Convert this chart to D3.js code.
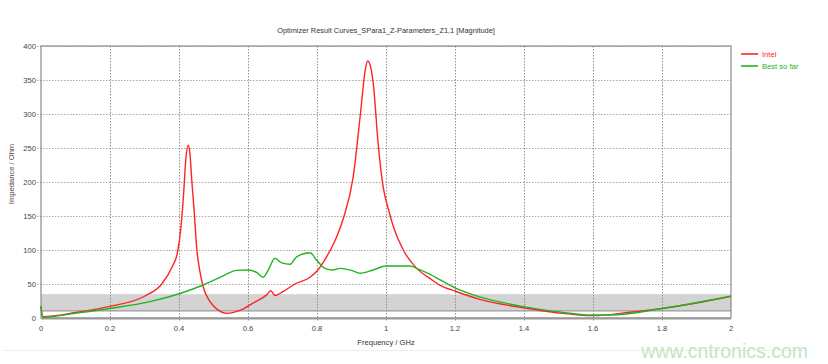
<!DOCTYPE html>
<html>
<head>
<meta charset="utf-8">
<script src="https://cdn.jsdelivr.net/npm/d3@7"></script>
<style>
  body { margin: 0; background: #fff; }
  svg { display: block; font-family: "Liberation Sans", Arial, sans-serif; }
</style>
</head>
<body>
<main></main>
<script>
const width = 828;
const height = 364;

// Intel curve (GHz, Ohm)
const intelFreq = [0, 0.005, 0.1, 0.2, 0.3, 0.35, 0.38, 0.395, 0.405, 0.413, 0.42, 0.427, 0.432, 0.437, 0.445, 0.451, 0.46, 0.47, 0.49, 0.51, 0.538, 0.58, 0.615, 0.654, 0.666, 0.678, 0.702, 0.736, 0.78, 0.8, 0.823, 0.847, 0.876, 0.905, 0.925, 0.94, 0.947, 0.955, 0.963, 0.978, 0.992, 1.007, 1.021, 1.05, 1.089, 1.128, 1.157, 1.203, 1.272, 1.398, 1.495, 1.6, 1.7, 1.8, 1.9, 2.0];
const intelZ = [17, 2, 8, 17, 32, 50, 75, 95, 130, 180, 235, 254, 240, 203, 150, 105, 70, 46, 24, 13, 7, 12, 22, 34, 40, 33, 39, 50, 60, 69, 86, 108, 146, 208, 296, 365, 378, 370, 345, 252, 192, 160, 135, 100, 73, 58, 48, 39, 27.5, 15, 7.8, 3.5, 8, 14, 22, 32];

// Best so far curve
const bestFreq = [0, 0.005, 0.1, 0.2, 0.316, 0.403, 0.47, 0.52, 0.567, 0.6, 0.625, 0.644, 0.66, 0.678, 0.698, 0.722, 0.741, 0.78, 0.799, 0.823, 0.846, 0.867, 0.9, 0.925, 0.963, 1.0, 1.07, 1.089, 1.128, 1.157, 1.203, 1.272, 1.398, 1.495, 1.6, 1.65, 1.8, 2.0];
const bestZ = [17, 1, 7, 14, 24, 36, 48.5, 60, 70, 70.5, 67, 60, 72, 87.8, 81, 79, 90, 96, 85, 73, 70.6, 73, 70, 65.7, 70.6, 76.5, 76.5, 73, 64, 56, 43.6, 31, 16.7, 9.3, 4.4, 4.4, 14, 32];

// goal band
const bandLow = 10.5;
const bandHigh = 35;

const xTicks = [0, 0.2, 0.4, 0.6, 0.8, 1, 1.2, 1.4, 1.6, 1.8, 2];
const yTicks = [0, 50, 100, 150, 200, 250, 300, 350, 400];

const seriesNames = ["Intel", "Best so far"];
const seriesColors = ["#ff2424", "#22b422"];

const x = d3.scaleLinear().domain([0, 2]).range([41, 731]);
const y = d3.scaleLinear().domain([0, 400]).range([318, 46]);

const svg = d3.select('main').append('svg')
  .attr('width', width)
  .attr('height', height);

// title
svg.append('text')
  .attr('x', 386).attr('y', 33)
  .attr('text-anchor', 'middle')
  .style('font-size', '7.4px').style('fill', '#333')
  .text('Optimizer Result Curves_SPara1_Z-Parameters_Z1,1 [Magnitude]');

// goal band
svg.append('rect')
  .attr('x', x(0)).attr('y', y(bandHigh))
  .attr('width', x(2) - x(0)).attr('height', y(bandLow) - y(bandHigh))
  .style('fill', '#d3d3d3');
svg.append('line')
  .attr('x1', x(0)).attr('x2', x(2))
  .attr('y1', y(bandLow)).attr('y2', y(bandLow))
  .style('stroke', '#9a9a9a').style('stroke-width', 1.2);

// grid
svg.append('g').selectAll('line')
  .data(yTicks.slice(1))
  .enter().append('line')
  .attr('x1', 37).attr('x2', x(2))
  .attr('y1', d => y(d) + 0.5).attr('y2', d => y(d) + 0.5)
  .style('stroke', '#a8a8a8').style('stroke-dasharray', '1.5,1.5');

svg.append('g').selectAll('line')
  .data(xTicks.slice(1, -1))
  .enter().append('line')
  .attr('x1', d => Math.round(x(d)) + 0.5).attr('x2', d => Math.round(x(d)) + 0.5)
  .attr('y1', y(400)).attr('y2', 322)
  .style('stroke', '#909090').style('stroke-dasharray', '1.5,1.5');

// frame
svg.append('rect')
  .attr('x', x(0)).attr('y', y(400))
  .attr('width', x(2) - x(0)).attr('height', y(0) - y(400))
  .style('fill', 'none').style('stroke', '#8a8a8a').style('stroke-width', 1.2);
svg.append('line')
  .attr('x1', x(0)).attr('x2', x(2))
  .attr('y1', y(0) + 0.5).attr('y2', y(0) + 0.5)
  .style('stroke', '#999').style('stroke-width', 2);

// tick labels
svg.append('g').selectAll('text')
  .data(xTicks)
  .enter().append('text')
  .attr('x', d => x(d)).attr('y', 331)
  .attr('text-anchor', 'middle')
  .style('font-size', '7.6px').style('fill', '#444')
  .text(d => d);

svg.append('g').selectAll('text')
  .data(yTicks)
  .enter().append('text')
  .attr('x', 36).attr('y', d => y(d) + 3)
  .attr('text-anchor', 'end')
  .style('font-size', '7.6px').style('fill', '#444')
  .text(d => d);

// axis titles
svg.append('text')
  .attr('x', 386).attr('y', 345)
  .attr('text-anchor', 'middle')
  .style('font-size', '7.6px').style('fill', '#333')
  .text('Frequency / GHz');

svg.append('text')
  .attr('transform', 'translate(14,174) rotate(-90)')
  .attr('text-anchor', 'middle')
  .style('font-size', '7.6px').style('fill', '#5a4638')
  .text('Impedance / Ohm');

// curves
const line = d3.line()
  .x(d => x(d[0]))
  .y(d => y(d[1]))
  .curve(d3.curveMonotoneX);

const series = [
  d3.zip(intelFreq, intelZ),
  d3.zip(bestFreq, bestZ)
];

svg.append('g').selectAll('path')
  .data(series)
  .enter().append('path')
  .attr('d', line)
  .style('fill', 'none')
  .style('stroke', (d, i) => seriesColors[i])
  .style('stroke-width', 1.4);

// legend
const legend = svg.append('g').selectAll('g')
  .data(seriesNames)
  .enter().append('g')
  .attr('transform', (d, i) => `translate(741,${54 + i * 12})`);
legend.append('line')
  .attr('x1', 0).attr('x2', 17)
  .style('stroke', (d, i) => seriesColors[i]).style('stroke-width', 1.6);
legend.append('text')
  .attr('x', 21).attr('y', 2.5)
  .style('font-size', '7.6px')
  .style('fill', (d, i) => seriesColors[i])
  .text(d => d);

// bottom border of the window
svg.append('line')
  .attr('x1', 4).attr('x2', 806)
  .attr('y1', 350.5).attr('y2', 350.5)
  .style('stroke', '#eee');

// watermark
svg.append('text')
  .attr('x', 808).attr('y', 358)
  .attr('text-anchor', 'end')
  .style('font-size', '19.5px')
  .style('fill', '#c6e5bc')
  .text('www.cntronics.com');
</script>
</body>
</html>
